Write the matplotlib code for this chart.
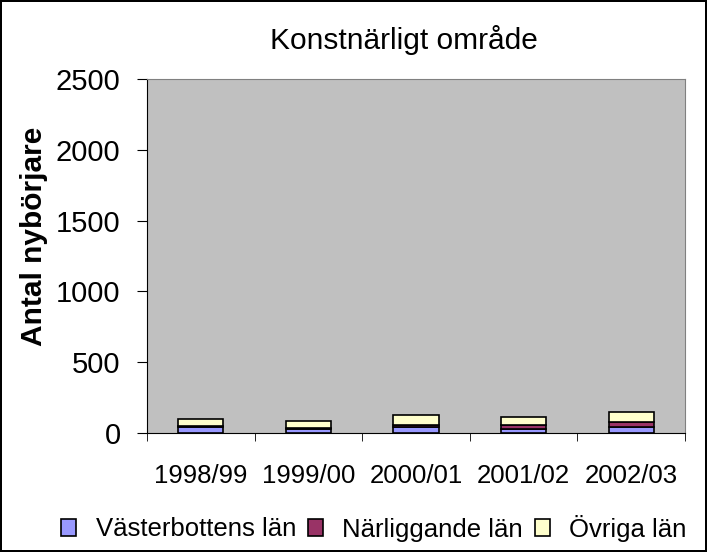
import matplotlib.pyplot as plt
import numpy as np

plt.rcParams['font.family'] = ['Liberation Sans', 'DejaVu Sans']

years = ['1998/99', '1999/00', '2000/01', '2001/02', '2002/03']
vasterbotten = [40, 25, 40, 25, 40]
narliggande = [10, 10, 15, 30, 35]
ovriga = [50, 50, 75, 60, 70]

W, H = 707, 552
fig = plt.figure(figsize=(W / 100, H / 100), dpi=100)
fig.patch.set_edgecolor('black')
fig.patch.set_linewidth(1.5)
ax = fig.add_axes([147 / W, 1 - 433 / H, 538 / W, 354 / H])
ax.set_facecolor('#C0C0C0')

x = np.arange(len(years))
w = 0.42
b1 = np.array(vasterbotten)
b2 = b1 + np.array(narliggande)
ax.bar(x, vasterbotten, w, color='#9999FF', edgecolor='black', linewidth=1.2, label='Västerbottens län')
ax.bar(x, narliggande, w, bottom=b1, color='#993366', edgecolor='black', linewidth=1.2, label='Närliggande län')
ax.bar(x, ovriga, w, bottom=b2, color='#FFFFCC', edgecolor='black', linewidth=1.2, label='Övriga län')

ax.set_xlim(-0.5, len(years) - 0.5)
ax.set_ylim(0, 2500)
ax.set_yticks(range(0, 2501, 500))
ax.tick_params(axis='y', labelsize=21, length=7, direction='out', pad=12)
ax.set_xticks(x)
ax.set_xticklabels(years, fontsize=18.5)
ax.set_xticks(np.arange(-0.5, len(years), 1), minor=True)
ax.tick_params(axis='x', which='major', length=0, pad=22)
ax.tick_params(axis='x', which='minor', length=6, direction='out')

for side in ['top', 'right']:
    ax.spines[side].set_color('#808080')
ax.spines['left'].set_color('black')
ax.spines['bottom'].set_color('black')

fig.text(34 / W, 1 - 236 / H, 'Antal nybörjare', fontsize=21.5, fontweight='bold',
         rotation=90, ha='center', va='center')
fig.text(404 / W, 1 - 40 / H, 'Konstnärligt område', fontsize=21.5, ha='center', va='center')

fig.legend(loc='center left', bbox_to_anchor=(61 / W, 1 - 528 / H), ncol=3, frameon=False,
           borderpad=0, borderaxespad=0, fontsize=18.5, handlelength=0.6, handleheight=0.6,
           handletextpad=0.75, columnspacing=0.45)

fig.savefig('out.png', dpi=100, edgecolor=fig.get_edgecolor())
